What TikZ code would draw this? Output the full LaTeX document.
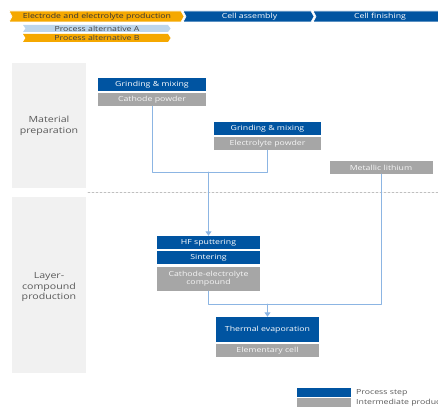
\documentclass[tikz,border=0pt]{standalone}
\usepackage{fontspec}
\setmainfont{Open Sans}
\newfontfamily\widefont[FakeStretch=1.25]{Open Sans}
\usetikzlibrary{arrows.meta}
\definecolor{procblue}{rgb}{0.,0.33,0.63}
\definecolor{prodgrey}{rgb}{0.65,0.65,0.65}
\definecolor{headorange}{rgb}{0.96,0.66,0.}
\definecolor{altblue}{rgb}{0.74,0.84,0.93}
\definecolor{linkblue}{rgb}{0.55,0.71,0.89}
\definecolor{bandgrey}{rgb}{0.945,0.945,0.945}
\definecolor{labelgrey}{rgb}{0.35,0.35,0.35}
\begin{document}
\begin{tikzpicture}[line cap=round,line join=round,>={Triangle[length=4.5pt,width=6pt]},x=1.0pt,y=-1.0pt,
	procbox/.style={fill=procblue,text=white,minimum width=103pt,minimum height=13pt,inner sep=0pt,align=center,font=\widefont\fontsize{7}{8.2}\selectfont},
	prodbox/.style={procbox,fill=prodgrey,text=white!90!prodgrey},
	link/.style={draw=linkblue,line width=0.9pt},
	bandlabel/.style={text=labelgrey,align=center,font=\widefont\fontsize{8.5}{10.8}\selectfont},
	headtext/.style={font=\widefont\fontsize{7}{8}\selectfont,inner sep=0pt},
	legtext/.style={anchor=west,text=labelgrey,font=\widefont\fontsize{7}{8}\selectfont,inner sep=0pt}]
	\useasboundingbox (0,0) rectangle (438,409);
	\clip (0,0) rectangle (438,409);
	\fill[headorange,draw=white,line width=0.6pt] (9,11) -- (181,11) -- (184,16.5) -- (181,22) -- (9,22) -- (12,16.5) -- cycle;
	\fill[procblue,draw=white,line width=0.6pt] (183,11) -- (311,11) -- (314,16.5) -- (311,22) -- (183,22) -- (186,16.5) -- cycle;
	\fill[procblue,draw=white,line width=0.6pt] (313,11) -- (439,11) -- (439,22) -- (313,22) -- (316,16.5) -- cycle;
	\node[headtext,text=black!80] (head1) at (97,16.5) {Electrode and electrolyte production};
	\node[headtext,text=white] (head2) at (249.5,16.5) {Cell assembly};
	\node[headtext,text=white] (head3) at (380,16.5) {Cell finishing};
	\fill[altblue] (23,25) -- (168,25) -- (170.5,28.5) -- (168,32) -- (23,32) -- (25.5,28.5) -- cycle;
	\fill[headorange] (23,34) -- (168,34) -- (170.5,38) -- (168,42) -- (23,42) -- (25.5,38) -- cycle;
	\node[headtext,text=black!75] (altA) at (97,28.5) {Process alternative A};
	\node[headtext,text=black!75] (altB) at (97,38) {Process alternative B};
	\fill[bandgrey] (12,63) rectangle (86,188);
	\fill[bandgrey] (12,197) rectangle (86,373);
	\node[bandlabel] (matprep) at (49,126) {Material\\preparation};
	\node[bandlabel] (laycomp) at (49,287) {Layer-\\compound\\production};
	\draw[black!25,line width=0.6pt,dash pattern=on 2pt off 2pt] (88,192) -- (438,192);
	\node[procbox,minimum width=108pt] (grind1) at (152,84.5) {Grinding \& mixing};
	\node[prodbox,minimum width=108pt] (cathpow) at (152,99.5) {Cathode powder};
	\node[procbox,minimum width=107pt] (grind2) at (267.5,128.5) {Grinding \& mixing};
	\node[prodbox,minimum width=107pt] (elecpow) at (267.5,143.5) {Electrolyte powder};
	\node[prodbox] (lithium) at (381,167.5) {Metallic lithium};
	\node[procbox] (hfsput) at (208.5,242.5) {HF sputtering};
	\node[procbox] (sinter) at (208.5,257.5) {Sintering};
	\node[prodbox,minimum height=24pt] (compound) at (208.5,279) {Cathode-electrolyte\\compound};
	\node[procbox,minimum height=25pt] (thermal) at (267.5,329.5) {Thermal evaporation};
	\node[prodbox] (elemcell) at (267.5,350.5) {Elementary cell};
	\coordinate (join1) at (208.5,172);
	\coordinate (join2) at (267.5,304);
	\draw[link] (cathpow.south) |- (join1);
	\draw[link] (elecpow.south) |- (join1);
	\draw[link,->] (join1) -- (hfsput.north);
	\draw[link] (compound.south) |- (join2);
	\draw[link] (lithium.south) |- (join2);
	\draw[link,->] (join2) -- (thermal.north);
	\node[procbox,minimum width=54pt,minimum height=9pt] (legproc) at (324,392.5) {};
	\node[prodbox,minimum width=54pt,minimum height=9pt] (legprod) at (324,402.5) {};
	\node[legtext] (legproctext) at (356,392.5) {Process step};
	\node[legtext] (legprodtext) at (356,402.5) {Intermediate product};
\end{tikzpicture}
\end{document}
